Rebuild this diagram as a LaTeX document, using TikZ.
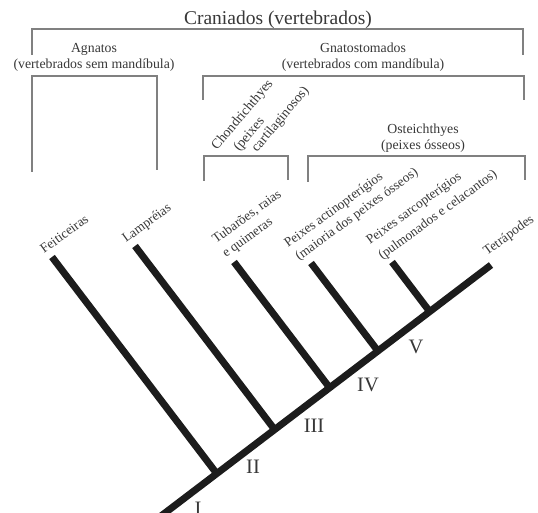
\documentclass[tikz,border=0pt]{standalone}
\usepackage{fontspec}
\setmainfont{Liberation Serif}
\usetikzlibrary{calc}
\definecolor{brk}{HTML}{808080}
\definecolor{txt}{HTML}{383838}
\definecolor{br}{HTML}{1C1C1C}
\begin{document}
\begin{tikzpicture}[x=1pt,y=-1pt,
  bracket/.style={draw=brk,line width=1.3pt},
  branch/.style={draw=br,line width=7pt},
  lbl/.style={text=txt,inner sep=0pt,font=\fontsize{13.8}{16}\selectfont},
  rlbl/.style={lbl,rotate=36,anchor=base west,font=\fontsize{13.4}{16}\selectfont},
  clbl/.style={lbl,rotate=50,anchor=base west},
  num/.style={text=txt,inner sep=0pt,font=\fontsize{20.5}{24}\selectfont},
  ttl/.style={text=txt,inner sep=0pt,anchor=base,font=\fontsize{19.5}{23}\selectfont}]
\useasboundingbox (0,0) rectangle (538,513);
\fill[white] (0,0) rectangle (538,513);

% brackets
\coordinate (crA) at (32,55);  \coordinate (crB) at (32,29);
\coordinate (crC) at (523,29); \coordinate (crD) at (523,55);
\draw[bracket] (crA) -- (crB) -- (crC) -- (crD);
\coordinate (agA) at (32,172); \coordinate (agB) at (32,76);
\coordinate (agC) at (157,76); \coordinate (agD) at (157,170);
\draw[bracket] (agA) -- (agB) -- (agC) -- (agD);
\coordinate (gnA) at (203,100); \coordinate (gnB) at (203,76);
\coordinate (gnC) at (524,76);  \coordinate (gnD) at (524,100);
\draw[bracket] (gnA) -- (gnB) -- (gnC) -- (gnD);
\coordinate (chA) at (204,181); \coordinate (chB) at (204,156);
\coordinate (chC) at (288,156); \coordinate (chD) at (288,180);
\draw[bracket] (chA) -- (chB) -- (chC) -- (chD);
\coordinate (osA) at (308,182); \coordinate (osB) at (308,156);
\coordinate (osC) at (525,156); \coordinate (osD) at (525,180);
\draw[bracket] (osA) -- (osB) -- (osC) -- (osD);

% bracket labels
\node[ttl] (cran) at (278,25) {Craniados (vertebrados)};
\node[lbl,anchor=base] (agn1) at (94,53) {Agnatos};
\node[lbl,anchor=base] (agn2) at (94,69) {(vertebrados sem mandíbula)};
\node[lbl,anchor=base] (gna1) at (363,53) {Gnatostomados};
\node[lbl,anchor=base] (gna2) at (363,69) {(vertebrados com mandíbula)};
\node[lbl,anchor=base] (ost1) at (423,134) {Osteichthyes};
\node[lbl,anchor=base] (ost2) at (423,150) {(peixes ósseos)};
\node[clbl] (cho1) at (217,151) {Chondrichthyes};
\node[clbl] (cho2) at (239,152) {(peixes};
\node[clbl] (cho3) at (257,153) {cartilaginosos)};

% tree
\coordinate (root) at (161,516);
\coordinate (tet) at (491,265);
\coordinate (tFei) at (52,257);
\coordinate (tLam) at (135,246);
\coordinate (tTub) at (234,262);
\coordinate (tAct) at (311,263);
\coordinate (tSar) at (392,262);
\coordinate (jFei) at ($(root)!(tFei)!(tet)$);
\coordinate (jLam) at ($(root)!(tLam)!(tet)$);
\coordinate (jTub) at ($(root)!(tTub)!(tet)$);
\coordinate (jAct) at ($(root)!(tAct)!(tet)$);
\coordinate (jSar) at ($(root)!(tSar)!(tet)$);
\draw[branch] (root) -- (tet);
\draw[branch] (jFei) -- (tFei);
\draw[branch] (jLam) -- (tLam);
\draw[branch] (jTub) -- (tTub);
\draw[branch] (jAct) -- (tAct);
\draw[branch] (jSar) -- (tSar);

% tip labels
\node[rlbl] (fei) at (44,254) {Feiticeiras};
\node[rlbl] (lam) at (126,243) {Lampréias};
\node[rlbl] (tub1) at (216,244) {Tubarões, raias};
\node[rlbl] (tub2) at (226,258) {e quimeras};
\node[rlbl] (act1) at (288,248) {Peixes actinopterígios};
\node[rlbl] (act2) at (299,261) {(maioria dos peixes ósseos)};
\node[rlbl] (sar1) at (370,245) {Peixes sarcopterígios};
\node[rlbl] (sar2) at (382,260) {(pulmonados e celacantos)};
\node[rlbl] (tetl) at (487,256) {Tetrápodes};

% numerals
\node[num] (nI) at (198,509) {I};
\node[num] (nII) at (253,467) {II};
\node[num] (nIII) at (314,426) {III};
\node[num] (nIV) at (368,385) {IV};
\node[num] (nV) at (416,347) {V};
\end{tikzpicture}
\end{document}
